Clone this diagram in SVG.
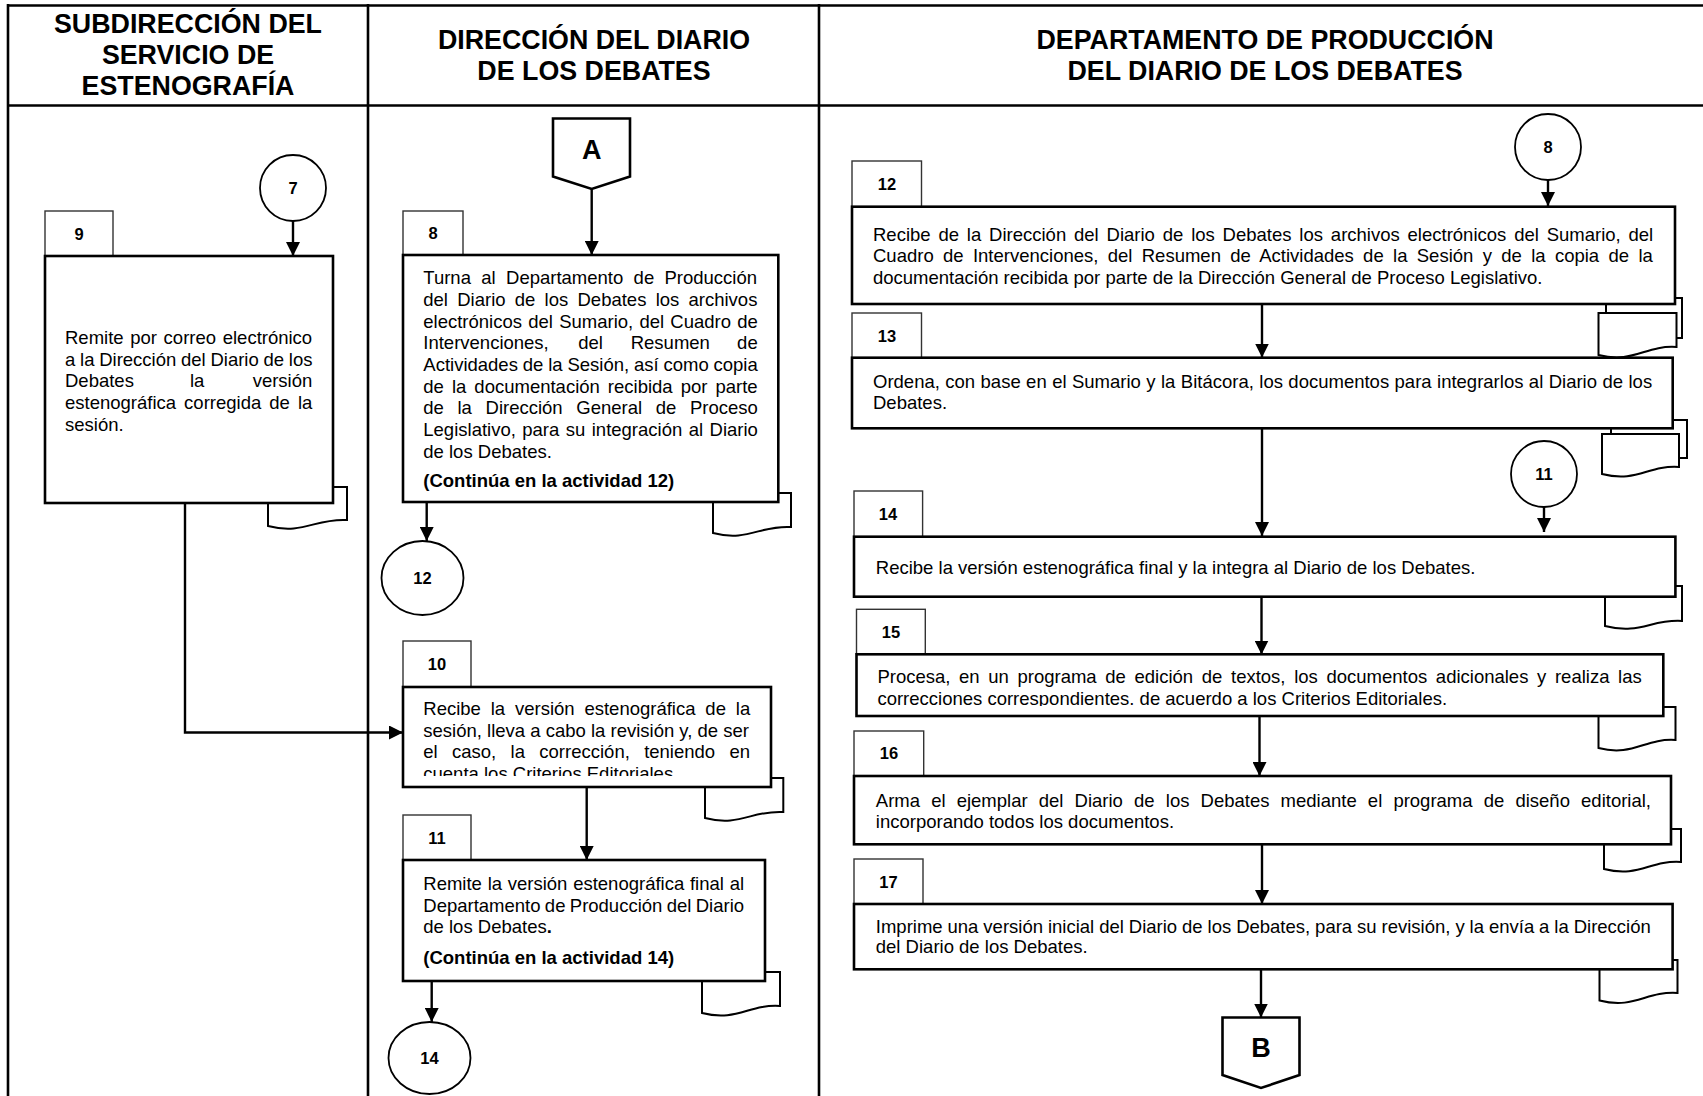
<svg xmlns="http://www.w3.org/2000/svg" width="1703" height="1096" viewBox="0 0 1703 1096">
<style>
.frame{fill:none;stroke:#000;stroke-width:2.6}
.box{fill:#fff;stroke:#000;stroke-width:2.6}
.tab{fill:#fff;stroke:#333;stroke-width:1.4}
.doc{fill:#fff;stroke:#000;stroke-width:2}
.conn{fill:none;stroke:#000;stroke-width:2.4}
.circ{fill:#fff;stroke:#000;stroke-width:1.8}
.hdr{font-family:"Liberation Sans",Arial,sans-serif;font-weight:bold;font-size:26.8px;text-anchor:middle;fill:#000}
.t{font-family:"Liberation Sans",Arial,sans-serif;font-size:18.5px;fill:#000}
.b{font-family:"Liberation Sans",Arial,sans-serif;font-size:18.5px;font-weight:bold;fill:#000}
.lbl{font-family:"Liberation Sans",Arial,sans-serif;font-size:16.5px;font-weight:bold;text-anchor:middle;fill:#000}
.big{font-family:"Liberation Sans",Arial,sans-serif;font-size:27px;font-weight:bold;text-anchor:middle;fill:#000}
</style>
<defs>
<marker id="arr" markerUnits="userSpaceOnUse" markerWidth="14" markerHeight="14" refX="14" refY="7" orient="auto">
<path d="M0,0 L14,7 L0,14 Z" fill="#000"/>
</marker>
<clipPath id="clip10"><rect x="405" y="690" width="364" height="86"/></clipPath>
<clipPath id="clip15"><rect x="860" y="660" width="800" height="46"/></clipPath>
</defs>
<rect width="1703" height="1096" fill="#fff"/>

<g id="frame">
<line class="frame" x1="8" y1="5.5" x2="1703" y2="5.5"/>
<line class="frame" x1="8" y1="4" x2="8" y2="1096"/>
<line class="frame" x1="8" y1="105.5" x2="1703" y2="105.5"/>
<line class="frame" x1="368" y1="4" x2="368" y2="1096"/>
<line class="frame" x1="819" y1="4" x2="819" y2="1096"/>
</g>

<g id="headers">
<text class="hdr" x="188" y="32.5">SUBDIRECCIÓN DEL</text>
<text class="hdr" x="188" y="63.5">SERVICIO DE</text>
<text class="hdr" x="188" y="94.5">ESTENOGRAFÍA</text>
<text class="hdr" x="594" y="48.5">DIRECCIÓN DEL DIARIO</text>
<text class="hdr" x="594" y="80">DE LOS DEBATES</text>
<text class="hdr" x="1265" y="48.5">DEPARTAMENTO DE PRODUCCIÓN</text>
<text class="hdr" x="1265" y="80">DEL DIARIO DE LOS DEBATES</text>
</g>

<g id="connectors">
<line class="conn" x1="293" y1="221" x2="293" y2="256" marker-end="url(#arr)"/>
<polyline class="conn" points="185,503 185,732.5 403,732.5" marker-end="url(#arr)"/>
<line class="conn" x1="591.7" y1="189" x2="591.7" y2="255" marker-end="url(#arr)"/>
<line class="conn" x1="426.7" y1="502" x2="426.7" y2="541" marker-end="url(#arr)"/>
<line class="conn" x1="586.7" y1="787" x2="586.7" y2="860" marker-end="url(#arr)"/>
<line class="conn" x1="431.7" y1="981" x2="431.7" y2="1022" marker-end="url(#arr)"/>
<line class="conn" x1="1548" y1="180" x2="1548" y2="206" marker-end="url(#arr)"/>
<line class="conn" x1="1262" y1="304" x2="1262" y2="357.5" marker-end="url(#arr)"/>
<line class="conn" x1="1262" y1="428.5" x2="1262" y2="536" marker-end="url(#arr)"/>
<line class="conn" x1="1544" y1="507" x2="1544" y2="532" marker-end="url(#arr)"/>
<line class="conn" x1="1261.5" y1="597" x2="1261.5" y2="654.5" marker-end="url(#arr)"/>
<line class="conn" x1="1259.5" y1="716" x2="1259.5" y2="776" marker-end="url(#arr)"/>
<line class="conn" x1="1262" y1="844.5" x2="1262" y2="904" marker-end="url(#arr)"/>
<line class="conn" x1="1261" y1="969.5" x2="1261" y2="1017.5" marker-end="url(#arr)"/>
</g>

<g id="c7">
<circle class="circ" cx="293" cy="188" r="33"/>
<text class="lbl" x="293" y="194">7</text>
</g>

<g id="n9">
<path class="doc" d="M268,487 H347 V520 C315.4,518 303.5,535 268,526 Z"/>
<rect class="tab" x="45" y="211" width="68" height="45"/>
<text class="lbl" x="79" y="239.5">9</text>
<rect class="box" x="45" y="256" width="288" height="247"/>
<text class="t" x="65" y="343.8" style="word-spacing:1.5px">Remite por correo electrónico</text>
<text class="t" x="65" y="365.5" style="word-spacing:-0.4px">a la Dirección del Diario de los</text>
<text class="t" y="387.2"><tspan x="65">Debates</tspan><tspan x="190">la</tspan></text>
<text class="t" x="312.3" y="387.2" text-anchor="end">versión</text>
<text class="t" x="65" y="408.9" style="word-spacing:2.9px">estenográfica corregida de la</text>
<text class="t" x="65" y="430.6">sesión.</text>
</g>

<g id="cA">
<path class="box" d="M553,118.5 H630 V176.5 L591.7,189 L553,176.5 Z"/>
<text class="big" x="591.7" y="159">A</text>
</g>

<g id="n8">
<path class="doc" d="M713,493 H791 V527 C759.8,525 748.1,542 713,533 Z"/>
<rect class="tab" x="403" y="211" width="60" height="44"/>
<text class="lbl" x="433" y="239">8</text>
<rect class="box" x="403" y="255" width="375.3" height="247"/>
<text class="t" x="423.3" y="284.3" style="word-spacing:5.2px">Turna al Departamento de Producción</text>
<text class="t" x="423.3" y="306" style="word-spacing:4.1px">del Diario de los Debates los archivos</text>
<text class="t" x="423.3" y="327.7" style="word-spacing:1.1px">electrónicos del Sumario, del Cuadro de</text>
<text class="t" y="349.3"><tspan x="423.3">Intervenciones,</tspan><tspan x="578.3">del</tspan><tspan x="630.7">Resumen</tspan></text>
<text class="t" x="757.7" y="349.3" text-anchor="end">de</text>
<text class="t" x="423.3" y="371" style="word-spacing:-0.3px">Actividades de la Sesión, así como copia</text>
<text class="t" x="423.3" y="392.7" style="word-spacing:2.9px">de la documentación recibida por parte</text>
<text class="t" x="423.3" y="414.3" style="word-spacing:8.5px">de la Dirección General de Proceso</text>
<text class="t" x="423.3" y="436" style="word-spacing:1.3px">Legislativo, para su integración al Diario</text>
<text class="t" x="423.3" y="457.7">de los Debates.</text>
<text class="b" x="423.3" y="486.7">(Continúa en la actividad 12)</text>
</g>

<g id="c12">
<ellipse class="circ" cx="422.5" cy="578" rx="41" ry="37"/>
<text class="lbl" x="422.5" y="584">12</text>
</g>

<g id="n10">
<path class="doc" d="M705,778 H783.3 V812 C752,810 740,827 705,818 Z"/>
<rect class="tab" x="403" y="641" width="68" height="46"/>
<text class="lbl" x="437" y="670">10</text>
<rect class="box" x="403" y="687" width="368" height="100"/>
<g clip-path="url(#clip10)">
<text class="t" x="423.3" y="715" style="word-spacing:4.7px">Recibe la versión estenográfica de la</text>
<text class="t" x="423.3" y="736.7">sesión, lleva a cabo la revisión y, de ser</text>
<text class="t" x="423.3" y="758.3" style="word-spacing:9.2px">el caso, la corrección, teniendo en</text>
<text class="t" x="423.3" y="780">cuenta los Criterios Editoriales.</text>
</g>
</g>

<g id="n11">
<path class="doc" d="M702,972 H780 V1006 C749,1004 737,1022 702,1013 Z"/>
<rect class="tab" x="403" y="815" width="68" height="45"/>
<text class="lbl" x="437" y="843.5">11</text>
<rect class="box" x="403" y="860" width="362" height="121"/>
<text class="t" x="423.3" y="890" style="word-spacing:0.6px">Remite la versión estenográfica final al</text>
<text class="t" x="423.3" y="911.7" style="word-spacing:-0.8px">Departamento de Producción del Diario</text>
<text class="t" x="423.3" y="933.3">de los Debates<tspan font-weight="bold">.</tspan></text>
<text class="b" x="423.3" y="964">(Continúa en la actividad 14)</text>
</g>

<g id="c14">
<ellipse class="circ" cx="429.5" cy="1058" rx="41" ry="36"/>
<text class="lbl" x="429.5" y="1064">14</text>
</g>

<g id="c8">
<circle class="circ" cx="1548" cy="147" r="33"/>
<text class="lbl" x="1548" y="153">8</text>
</g>

<g id="n12">
<rect class="doc" x="1606" y="298" width="76" height="40"/>
<path class="doc" d="M1598.5,313 H1676.5 V347 C1645,345 1633.6,364 1598.5,355 Z"/>
<rect class="tab" x="852" y="161" width="69.5" height="45.7"/>
<text class="lbl" x="887" y="190">12</text>
<rect class="box" x="852" y="206.7" width="823" height="97.3"/>
<text class="t" x="873" y="241" style="word-spacing:2.7px">Recibe de la Dirección del Diario de los Debates los archivos electrónicos del Sumario, del</text>
<text class="t" x="873" y="262.2" style="word-spacing:4.2px">Cuadro de Intervenciones, del Resumen de Actividades de la Sesión y de la copia de la</text>
<text class="t" x="873" y="283.5">documentación recibida por parte de la Dirección General de Proceso Legislativo.</text>
</g>

<g id="n13">
<rect class="doc" x="1611" y="420" width="76" height="38"/>
<path class="doc" d="M1602,434 H1679 V467 C1648,465 1637,483 1602,474 Z"/>
<rect class="tab" x="852" y="313" width="69.5" height="44.7"/>
<text class="lbl" x="887" y="341.5">13</text>
<rect class="box" x="852" y="357.7" width="820.7" height="70.6"/>
<text class="t" x="873" y="387.7" style="word-spacing:0.3px">Ordena, con base en el Sumario y la Bitácora, los documentos para integrarlos al Diario de los</text>
<text class="t" x="873" y="408.8">Debates.</text>
</g>

<g id="c11">
<circle class="circ" cx="1544" cy="474" r="33"/>
<text class="lbl" x="1544" y="480">11</text>
</g>

<g id="n14">
<path class="doc" d="M1605,586 H1682 V621 C1651,619 1640,635 1605,626 Z"/>
<rect class="tab" x="854" y="491" width="68.6" height="45.7"/>
<text class="lbl" x="888" y="519.5">14</text>
<rect class="box" x="854" y="536.7" width="821.4" height="60"/>
<text class="t" x="875.8" y="574">Recibe la versión estenográfica final y la integra al Diario de los Debates.</text>
</g>

<g id="n15">
<path class="doc" d="M1598.5,707 H1675.5 V740 C1644.7,738 1633,757 1598.5,748 Z"/>
<rect class="tab" x="856.5" y="609.3" width="68.8" height="45"/>
<text class="lbl" x="891" y="637.5">15</text>
<rect class="box" x="856.5" y="654.3" width="806.8" height="61.7"/>
<g clip-path="url(#clip15)">
<text class="t" x="877.4" y="683.3" style="word-spacing:3.5px">Procesa, en un programa de edición de textos, los documentos adicionales y realiza las</text>
<text class="t" x="877.4" y="704.5">correcciones correspondientes. de acuerdo a los Criterios Editoriales.</text>
</g>
</g>

<g id="n16">
<path class="doc" d="M1604,829 H1681 V862 C1650,860 1639,878 1604,869 Z"/>
<rect class="tab" x="854" y="731" width="69.7" height="45"/>
<text class="lbl" x="889" y="759">16</text>
<rect class="box" x="854" y="776" width="817" height="68.3"/>
<text class="t" x="875.8" y="806.7" style="word-spacing:6px">Arma el ejemplar del Diario de los Debates mediante el programa de diseño editorial,</text>
<text class="t" x="875.8" y="828.3">incorporando todos los documentos.</text>
</g>

<g id="n17">
<path class="doc" d="M1599.5,960 H1677.5 V993 C1646,991 1634.6,1009.5 1599.5,1000.5 Z"/>
<rect class="tab" x="854" y="859" width="69" height="45"/>
<text class="lbl" x="888.5" y="887.5">17</text>
<rect class="box" x="854" y="904" width="818.6" height="65.3"/>
<text class="t" x="875.8" y="932.7" style="word-spacing:-0.2px">Imprime una versión inicial del Diario de los Debates, para su revisión, y la envía a la Dirección</text>
<text class="t" x="875.8" y="953">del Diario de los Debates.</text>
</g>

<g id="cB">
<path class="box" d="M1222.5,1017.5 H1299.5 V1075 L1261,1088 L1222.5,1075 Z"/>
<text class="big" x="1261" y="1056.5">B</text>
</g>
</svg>
